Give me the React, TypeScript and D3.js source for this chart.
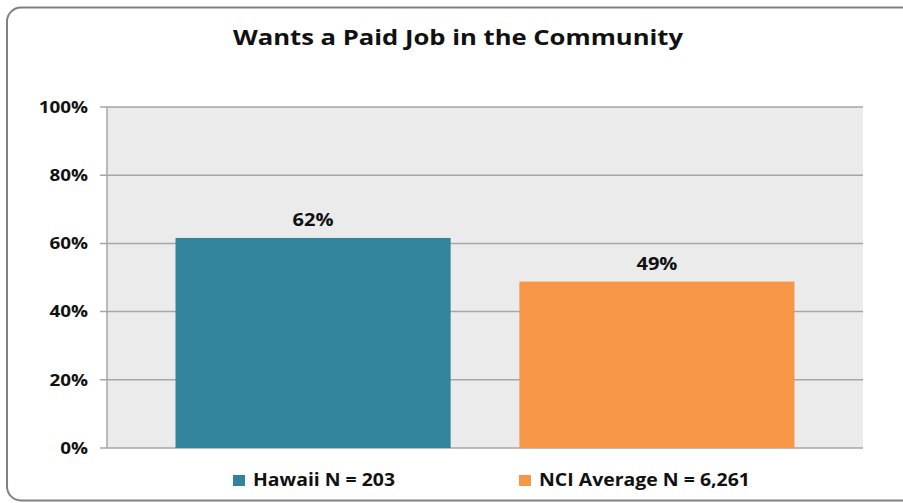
import React from "react";
import * as d3 from "d3";

const title = "Wants a Paid Job in the Community";
const categories = ["Wants a Paid Job in the Community"];
const seriesNames = ["Hawaii N = 203", "NCI Average N = 6,261"];
const seriesValues = [0.616, 0.488];
const seriesLabels = ["62%", "49%"];
const seriesColors = ["#31849b", "#f79646"];
const yTicks = [0, 0.2, 0.4, 0.6, 0.8, 1.0];

const W = 903;
const H = 503;
const plot = { left: 107, right: 863, top: 107, bottom: 448 };
const FONT = "'Open Sans', 'Liberation Sans', sans-serif";
const STRETCH = 1.18;

export default function App() {
  const y = d3.scaleLinear().domain([0, 1]).range([plot.bottom, plot.top]);
  const x0 = d3
    .scaleBand<string>()
    .domain(categories)
    .range([plot.left, plot.right])
    .paddingOuter(0.1107)
    .paddingInner(0);
  const x1 = d3
    .scaleBand<string>()
    .domain(seriesNames)
    .range([0, x0.bandwidth()])
    .paddingInner(0.2)
    .paddingOuter(0);
  const fmt = d3.format(".0%");

  const legendItems = [
    { name: seriesNames[0], color: seriesColors[0], x: 233, len: 142 },
    { name: seriesNames[1], color: seriesColors[1], x: 519, len: 211 },
  ];

  return (
    <svg
      width={W}
      height={H}
      style={{ position: "absolute", left: 0, top: 0, background: "#ffffff" }}
      fontFamily={FONT}
    >
      <rect
        x={7}
        y={7.5}
        width={W + 10}
        height={H - 10}
        rx={14}
        ry={14}
        fill="#ffffff"
        stroke="#808080"
        strokeWidth={2}
      />
      <text
        x={233}
        y={45}
        fontSize={22}
        fontWeight="bold"
        fill="#111"
        textLength={450}
        lengthAdjust="spacingAndGlyphs"
      >
        {title}
      </text>
      <rect
        x={plot.left}
        y={plot.top}
        width={plot.right - plot.left}
        height={plot.bottom - plot.top}
        fill="#ebebeb"
      />
      {yTicks.map((t) => (
        <g key={t}>
          <line
            x1={plot.left - 7}
            x2={plot.right}
            y1={y(t)}
            y2={y(t)}
            stroke="#a6a6a6"
            strokeWidth={1.5}
          />
          <text
            transform={`translate(88,${y(t)}) scale(${STRETCH},1)`}
            dy="0.36em"
            textAnchor="end"
            fontSize={16}
            fontWeight="bold"
            fill="#111"
          >
            {fmt(t)}
          </text>
        </g>
      ))}
      <line
        x1={plot.left}
        x2={plot.left}
        y1={plot.top}
        y2={plot.bottom}
        stroke="#a6a6a6"
        strokeWidth={1.5}
      />
      {categories.map((c) => (
        <g key={c} transform={`translate(${x0(c)},0)`}>
          {seriesNames.map((s, i) => (
            <g key={s}>
              <rect
                x={x1(s)}
                y={y(seriesValues[i])}
                width={x1.bandwidth()}
                height={y(0) - y(seriesValues[i])}
                fill={seriesColors[i]}
              />
              <text
                transform={`translate(${(x1(s) as number) + x1.bandwidth() / 2},${
                  y(seriesValues[i]) - 12
                }) scale(${STRETCH},1)`}
                textAnchor="middle"
                fontSize={17}
                fontWeight="bold"
                fill="#111"
              >
                {seriesLabels[i]}
              </text>
            </g>
          ))}
        </g>
      ))}
      {legendItems.map((l) => (
        <g key={l.name}>
          <rect x={l.x} y={475} width={12} height={11} fill={l.color} />
          <text
            x={l.x + 20}
            y={486}
            fontSize={17}
            fontWeight="bold"
            fill="#111"
            textLength={l.len}
            lengthAdjust="spacingAndGlyphs"
          >
            {l.name}
          </text>
        </g>
      ))}
    </svg>
  );
}
